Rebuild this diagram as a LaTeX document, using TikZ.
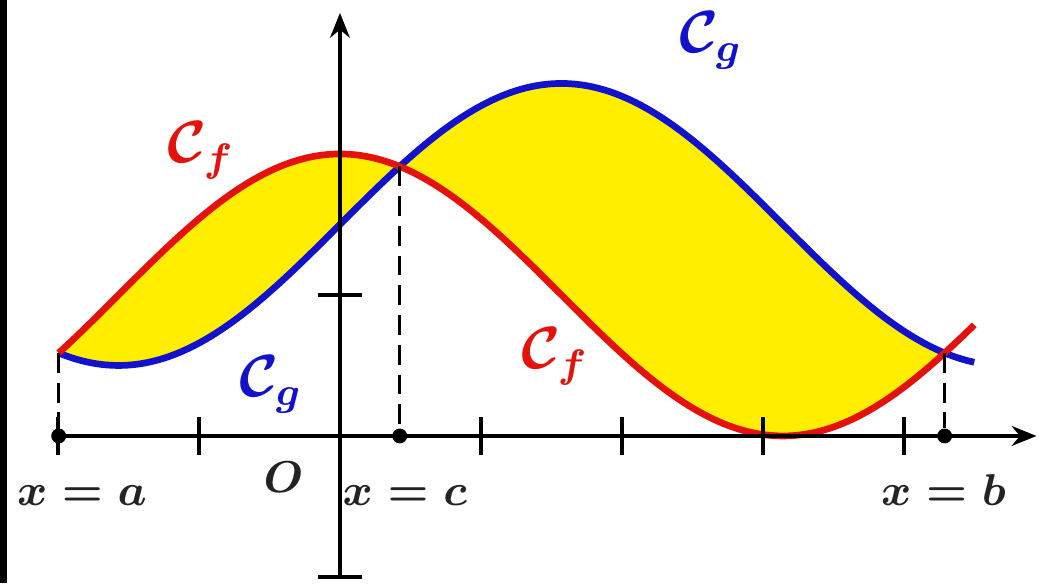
\documentclass[tikz,border=0pt]{standalone}
\usepackage{amsmath}
\usetikzlibrary{arrows.meta}
\definecolor{cred}{RGB}{228,18,10}
\definecolor{cblue}{RGB}{18,18,205}
\definecolor{cyel}{RGB}{255,238,0}
\definecolor{ctext}{RGB}{35,35,35}
\begin{document}
\begin{tikzpicture}[x=1cm,y=1cm,
  axisline/.style={line width=0.65pt, black},
  tickline/.style={line width=0.65pt, black},
  curvef/.style={line width=1.35pt, cred},
  curveg/.style={line width=1.35pt, cblue},
  dashline/.style={line width=0.65pt, black, dash pattern=on 4pt off 2pt},
  axdot/.style={circle, fill=black, inner sep=0pt, minimum size=3pt},
  lbl/.style={font=\boldmath\fontsize{9.5}{11}\selectfont, text=ctext, inner sep=0pt},
  clbl/.style={font=\boldmath\fontsize{12}{14}\selectfont, inner sep=0pt}]
\useasboundingbox (-2.411,-1.043) rectangle (5.0,3.092);
\fill[black] (-2.411,-1.043) rectangle (-2.362,3.092);
\def\aa{-1.994827}
\def\cc{0.424031}
\def\bb{4.288358}
% region between the curves
\fill[cyel] plot[domain=\aa:\bb, samples=120, smooth] (\x,{1+cos(\x r)})
  -- plot[domain=\bb:\aa, samples=120, smooth] (\x,{1.5+sin(\x r)}) -- cycle;
% curves
\draw[curveg] plot[domain=\aa:4.5, samples=120, smooth] (\x,{1.5+sin(\x r)});
\draw[curvef] plot[domain=\aa:4.5, samples=120, smooth] (\x,{1+cos(\x r)});
% axes
\coordinate (xs) at (\aa,0);
\coordinate (xe) at (4.94,0);
\coordinate (ys) at (0,-1);
\coordinate (ye) at (0,3.0);
\draw[axisline,-{Stealth[length=5pt,width=4pt]}] (xs) -- (xe);
\draw[axisline,-{Stealth[length=5pt,width=4pt]}] (ys) -- (ye);
\foreach \t in {-2,-1,1,2,3,4} \draw[tickline] (\t,-0.135) -- (\t,0.135);
\draw[tickline] (-0.155,1) -- (0.155,1);
\draw[tickline] (-0.155,-1) -- (0.155,-1);
% points
\node[axdot] (da) at (\aa,0) {};
\node[axdot] (dc) at (\cc,0) {};
\node[axdot] (db) at (\bb,0) {};
\coordinate (pa) at (\aa,0.5886);
\coordinate (pc) at (\cc,1.9114);
\coordinate (pb) at (\bb,0.5886);
\draw[dashline] (pa) -- (da);
\draw[dashline] (pc) -- (dc);
\draw[dashline] (pb) -- (db);
% labels
\node[lbl, anchor=base] (la) at (-1.83,-0.49) {$x=a$};
\node[lbl, anchor=base] (lo) at (-0.40,-0.40) {$O$};
\node[lbl, anchor=base] (lc) at (0.46,-0.49) {$x=c$};
\node[lbl, anchor=base] (lb) at (4.28,-0.49) {$x=b$};
\node[clbl, text=cblue, anchor=base west] (cg1) at (2.40,2.72) {$\mathcal{C}_g$};
\node[clbl, text=cred, anchor=base west] (cf1) at (-1.23,1.94) {$\mathcal{C}_f$};
\node[clbl, text=cblue, anchor=base west] (cg2) at (-0.72,0.28) {$\mathcal{C}_g$};
\node[clbl, text=cred, anchor=base west] (cf2) at (1.28,0.48) {$\mathcal{C}_f$};
\end{tikzpicture}
\end{document}
